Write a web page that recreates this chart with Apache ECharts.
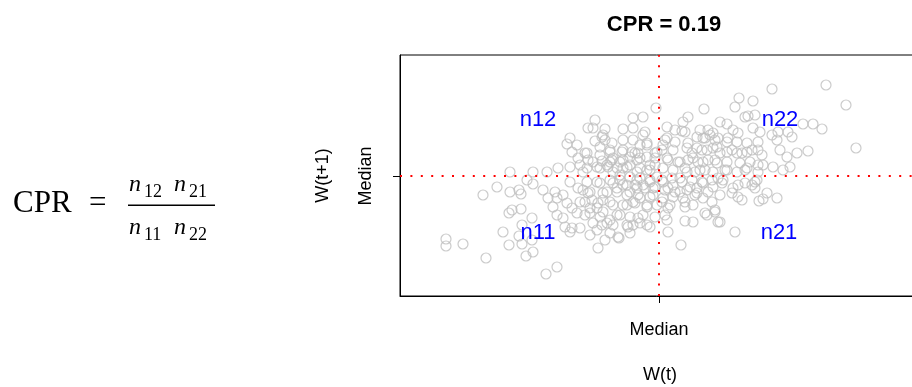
<!DOCTYPE html>
<html>
<head>
<meta charset="utf-8">
<script src="https://cdn.jsdelivr.net/npm/echarts@6/dist/echarts.min.js"></script>
<style>html,body{margin:0;padding:0;background:#fff;}#c{width:912px;height:387px;}</style>
</head>
<body>
<div id="c"></div>
<script>
// W(t) vs W(t+1), centred on the medians (median = 0 on both axes)
const leftOfMedian = [
[-1.49,0.04],[-1.62,-0.11],[-1.76,-0.19],[-1.49,-0.16],[-1.40,-0.14],[-1.38,-0.18],[-1.32,-0.04],[-1.47,-0.34],[-1.50,-0.37],[-1.38,-0.33],[-1.37,-0.49],[-1.56,-0.56],[-1.40,-0.60],[-2.13,-0.63],[-2.13,-0.70],[-1.96,-0.68],[-1.50,-0.69],[-1.37,-0.68],[-1.73,-0.82],[-1.33,-0.80],
[-1.26,-0.08],[-1.16,-0.14],[-1.11,-0.22],[-1.04,-0.16],[-1.02,-0.22],[-0.96,-0.19],[-1.06,-0.31],[-0.92,-0.27],[-0.87,-0.32],[-0.81,-0.12],[-0.76,-0.14],[-0.71,-0.17],[-0.79,-0.26],[-0.69,-0.32],[-0.74,-0.39],[-0.82,-0.37],[-0.96,-0.42],[-1.02,-0.39],[-1.27,-0.42],[-1.27,-0.64],[-1.26,-0.76],[-0.94,-0.51],[-0.87,-0.52],[-0.89,-0.56],[-0.79,-0.52],[-0.69,-0.59],[-0.62,-0.54],[-0.57,-0.49],[-0.52,-0.47],[-0.49,-0.44],[-0.59,-0.41],[-0.61,-0.72],[-0.54,-0.64],[-0.49,-0.57],[-0.40,-0.62],[-0.39,-0.39],[-0.31,-0.51],[-0.26,-0.49],[-0.12,-0.49],[-0.21,-0.42],[-1.02,-0.91],[-1.13,-0.98],[-0.46,-0.29],[-0.32,-0.29],[-0.26,-0.26],[-0.19,-0.22],[-0.12,-0.29],[-0.06,-0.19],[-0.32,-0.09],[-0.42,-0.12],[-0.52,-0.16],[-0.56,-0.24],[-0.29,-0.16],[-0.22,-0.12],[-0.16,-0.09],[-0.09,-0.06],[-0.06,-0.12],[-0.62,-0.32],[-0.67,-0.24],[-0.89,-0.06],[-0.62,-0.06],[-0.49,-0.04],[-0.39,-0.04],[-0.22,-0.04],
[-0.03,0.68],[-0.64,0.56],[-0.71,0.48],[-0.54,0.47],[-0.26,0.58],[-0.16,0.59],[-0.36,0.47],[-0.14,0.44],[-0.16,0.41],[-0.89,0.38],[-0.92,0.32],[-0.82,0.31],[-0.87,0.24],[-0.64,0.35],[-0.57,0.39],[-0.54,0.36],[-0.59,0.29],[-0.49,0.26],[-0.36,0.36],[-0.26,0.36],[-0.19,0.31],[-0.12,0.33],[-0.36,0.26],[-0.27,0.24],[-0.21,0.23],[-0.72,0.23],[-0.81,0.18],[-0.66,0.14],[-0.57,0.15],[-0.49,0.14],[-0.46,0.18],[-0.39,0.14],[-0.29,0.19],[-0.29,0.11],[-0.19,0.18],[-0.09,0.11],[-0.02,0.24],[-0.04,0.18],[-1.12,0.04],[-1.01,0.08],[-0.89,0.09],[-0.79,0.11],[-0.76,0.04],[-0.59,0.08],[-0.51,0.09],[-0.46,0.04],[-0.36,0.08],[-0.22,0.04],[-0.12,0.06],[-1.26,0.04],
[-0.66,0.48],[-0.56,0.41],[-0.26,0.48],[-0.47,0.33],[-0.12,0.31],[-0.74,0.23],[-0.71,0.16],[-0.59,0.21],[-0.49,0.24],[-0.47,0.16],[-0.37,0.24],[-0.36,0.16],[-0.24,0.23],[-0.22,0.16],[-0.12,0.19],[-0.04,0.23],[-0.04,0.11],[-0.72,0.08],[-0.62,0.09],[-0.52,0.11],[-0.42,0.08],[-0.32,0.09],[-0.19,0.08],[-0.09,0.06],[-0.39,0.01],[-0.29,-0.01],[-0.19,-0.02],[-0.09,-0.04],[-0.02,-0.01],[-0.72,-0.06],[-0.59,-0.07],[-0.46,-0.07],[-0.36,-0.09],[-0.24,-0.09],[-0.14,-0.12],[-0.04,-0.11],[-0.69,-0.16],[-0.56,-0.17],[-0.42,-0.16],[-0.32,-0.19],[-0.21,-0.19],[-0.09,-0.21],[-0.74,-0.26],[-0.61,-0.27],[-0.49,-0.26],[-0.36,-0.29],[-0.24,-0.27],[-0.12,-0.31],[-0.02,-0.29],[-0.69,-0.37],[-0.56,-0.36],[-0.42,-0.39],[-0.29,-0.41],[-0.16,-0.39],[-0.04,-0.41],[-0.66,-0.47],[-0.46,-0.49],[-0.32,-0.49],[-0.19,-0.47],[-0.09,-0.51],[-0.29,-0.57],[-0.41,-0.61]
];
const rightOfMedian = [
[0.04,-0.06],[0.09,-0.12],[0.14,-0.09],[0.21,-0.02],[0.21,-0.16],[0.31,-0.11],[0.38,-0.12],[0.44,-0.07],[0.54,-0.11],[0.64,-0.04],[0.59,-0.02],[0.74,-0.12],[0.79,-0.09],[0.79,-0.21],[0.83,-0.24],[0.93,-0.09],[0.98,-0.04],[1.00,-0.25],[1.08,-0.17],[1.04,-0.23],[1.18,-0.22],[0.04,-0.22],[0.09,-0.32],[0.14,-0.21],[0.24,-0.22],[0.26,-0.31],[0.34,-0.29],[0.36,-0.19],[0.44,-0.22],[0.53,-0.26],[0.56,-0.34],[0.48,-0.39],[0.06,-0.39],[0.08,-0.44],[0.26,-0.45],[0.34,-0.46],[0.59,-0.46],[0.09,-0.56],[0.76,-0.56],[0.22,-0.69],
[1.13,0.87],[0.80,0.78],[0.94,0.75],[0.76,0.69],[0.45,0.67],[0.89,0.60],[0.86,0.59],[0.29,0.59],[0.24,0.54],[0.61,0.54],[0.68,0.52],[0.08,0.49],[0.16,0.46],[0.23,0.45],[0.41,0.46],[0.49,0.46],[0.54,0.43],[0.74,0.46],[0.79,0.43],[0.94,0.48],[1.01,0.44],[1.13,0.41],[1.19,0.44],[1.29,0.44],[0.08,0.38],[0.16,0.34],[0.38,0.39],[0.44,0.38],[0.51,0.41],[0.56,0.36],[0.69,0.38],[0.78,0.34],[0.88,0.33],[0.99,0.34],[1.18,0.36],[0.04,0.31],[0.14,0.26],[0.28,0.28],[0.38,0.28],[0.48,0.26],[0.58,0.29],[0.68,0.24],[0.78,0.23],[0.88,0.24],[0.99,0.26],[1.03,0.21],[1.21,0.26],[1.28,0.19],[0.08,0.18],[0.21,0.14],[0.34,0.18],[0.44,0.14],[0.56,0.16],[0.68,0.14],[0.81,0.13],[0.91,0.14],[1.04,0.11],[1.14,0.09],[0.04,0.08],[0.14,0.06],[0.28,0.04],[0.41,0.06],[0.54,0.04],[0.68,0.06],[0.78,0.04],[0.88,0.08],[0.99,0.04],[1.24,0.06],
[1.67,0.91],[1.87,0.71],[1.44,0.52],[1.54,0.52],[1.63,0.47],[1.33,0.39],[1.97,0.28],[1.49,0.25],[1.38,0.23],[1.31,0.09],
[0.96,0.61],[0.26,0.44],[0.46,0.38],[0.06,0.36],[0.29,0.33],[0.59,0.38],[0.68,0.34],[0.03,0.26],[0.33,0.23],[0.43,0.26],[0.54,0.28],[0.61,0.23],[0.73,0.26],[0.83,0.23],[0.93,0.26],[0.09,0.16],[0.19,0.14],[0.29,0.16],[0.39,0.14],[0.49,0.16],[0.58,0.13],[0.99,0.11],[0.26,0.08],[0.36,0.04],[0.46,0.06],[0.66,0.06],[0.86,0.06],[0.03,-0.04],[0.13,-0.02],[0.23,-0.06],[0.33,-0.04],[0.43,-0.06],[0.53,-0.04],[0.63,-0.07],[0.86,-0.07],[0.96,-0.06],[0.06,-0.14],[0.16,-0.16],[0.28,-0.14],[0.38,-0.17],[0.49,-0.16],[0.61,-0.19],[0.73,-0.17],[0.96,-0.12],[0.03,-0.26],[0.11,-0.29],[0.26,-0.26],[0.46,-0.37],[0.56,-0.36],[0.61,-0.46]
];
const medianX = 0, medianY = 0;
const quadrantNames = ['n12','n22','n11','n21'];
const quadrantLabelX = [-1.21, 1.21, -1.21, 1.20];
const quadrantLabelY = [0.56, 0.56, -0.57, -0.57];
const cprValue = 0.19;

const chart = echarts.init(document.getElementById('c'), null, {renderer:'canvas'});
const serif = '"Liberation Serif","DejaVu Serif",serif';
const sans = '"Liberation Sans",Arial,sans-serif';
chart.setOption({
  animation:false,
  backgroundColor:'#fff',
  title:{text:'CPR = ' + cprValue.toFixed(2), left:659, top:9, textAlign:'center',
    textStyle:{fontFamily:sans, fontSize:22, fontWeight:'bold', color:'#000'}},
  grid:{left:400, top:55, width:520, height:241, outerBoundsMode:'none', containLabel:false,
    show:true, borderColor:'#000', borderWidth:1, backgroundColor:'transparent'},
  xAxis:{type:'value', min:-2.59, max:2.61, name:'W(t)', nameLocation:'middle', nameGap:70,
    nameTextStyle:{fontFamily:sans, fontSize:18, color:'#000'},
    axisLine:{show:true, onZero:false, lineStyle:{color:'#000', width:1}}, splitLine:{show:false},
    axisTick:{show:true, customValues:[medianX], length:7, lineStyle:{color:'#000', width:1}},
    axisLabel:{show:true, customValues:[medianX], formatter:()=> 'Median', margin:25, fontFamily:sans, fontSize:18, color:'#000'}},
  yAxis:{type:'value', min:-1.20, max:1.21, name:'W(t+1)', nameLocation:'middle', nameGap:68,
    nameTextStyle:{fontFamily:sans, fontSize:18, color:'#000'},
    axisLine:{show:true, onZero:false, lineStyle:{color:'#000', width:1}}, splitLine:{show:false},
    axisTick:{show:true, customValues:[medianY], length:7, lineStyle:{color:'#000', width:1}},
    axisLabel:{show:true, customValues:[medianY], formatter:()=> 'Median', rotate:90, margin:25, fontFamily:sans, fontSize:18, color:'#000'}},
  series:[
    {type:'scatter', data:leftOfMedian.concat(rightOfMedian), symbol:'circle', symbolSize:10,
      itemStyle:{color:'rgba(0,0,0,0)', borderColor:'#bebebe', borderWidth:1.2}, z:2},
    {type:'scatter', data:quadrantNames.map((n,i)=>({value:[quadrantLabelX[i], quadrantLabelY[i]], name:n})),
      symbolSize:0, z:3, itemStyle:{opacity:1},
      label:{show:true, position:'inside', formatter:p=>p.name, fontFamily:sans, fontSize:22, color:'#0000ff', opacity:1, textBorderWidth:0}},
    {type:'line', data:[], z:4,
      markLine:{silent:true, symbol:'none', label:{show:false},
        lineStyle:{color:'#ff0000', width:2, type:[2,8.4], opacity:1},
        data:[{xAxis:medianX},{yAxis:medianY}]}}
  ],
  graphic:[
    {type:'text', left:13, top:188, style:{text:'CPR', font:'31px '+serif, fill:'#000'}},
    {type:'text', left:89, top:188, style:{text:'=', font:'31px '+serif, fill:'#000'}},
    {type:'rect', shape:{x:128, y:204.5, width:87, height:1.6}, style:{fill:'#000'}},
    {type:'text', left:129, top:173, style:{text:'n', font:'italic 24px '+serif, fill:'#000'}},
    {type:'text', left:144, top:183, style:{text:'12', font:'18px '+serif, fill:'#000'}},
    {type:'text', left:174, top:173, style:{text:'n', font:'italic 24px '+serif, fill:'#000'}},
    {type:'text', left:189, top:183, style:{text:'21', font:'18px '+serif, fill:'#000'}},
    {type:'text', left:129, top:216, style:{text:'n', font:'italic 24px '+serif, fill:'#000'}},
    {type:'text', left:144, top:226, style:{text:'11', font:'18px '+serif, fill:'#000'}},
    {type:'text', left:174, top:216, style:{text:'n', font:'italic 24px '+serif, fill:'#000'}},
    {type:'text', left:189, top:226, style:{text:'22', font:'18px '+serif, fill:'#000'}}
  ]
});
</script>
</body>
</html>
